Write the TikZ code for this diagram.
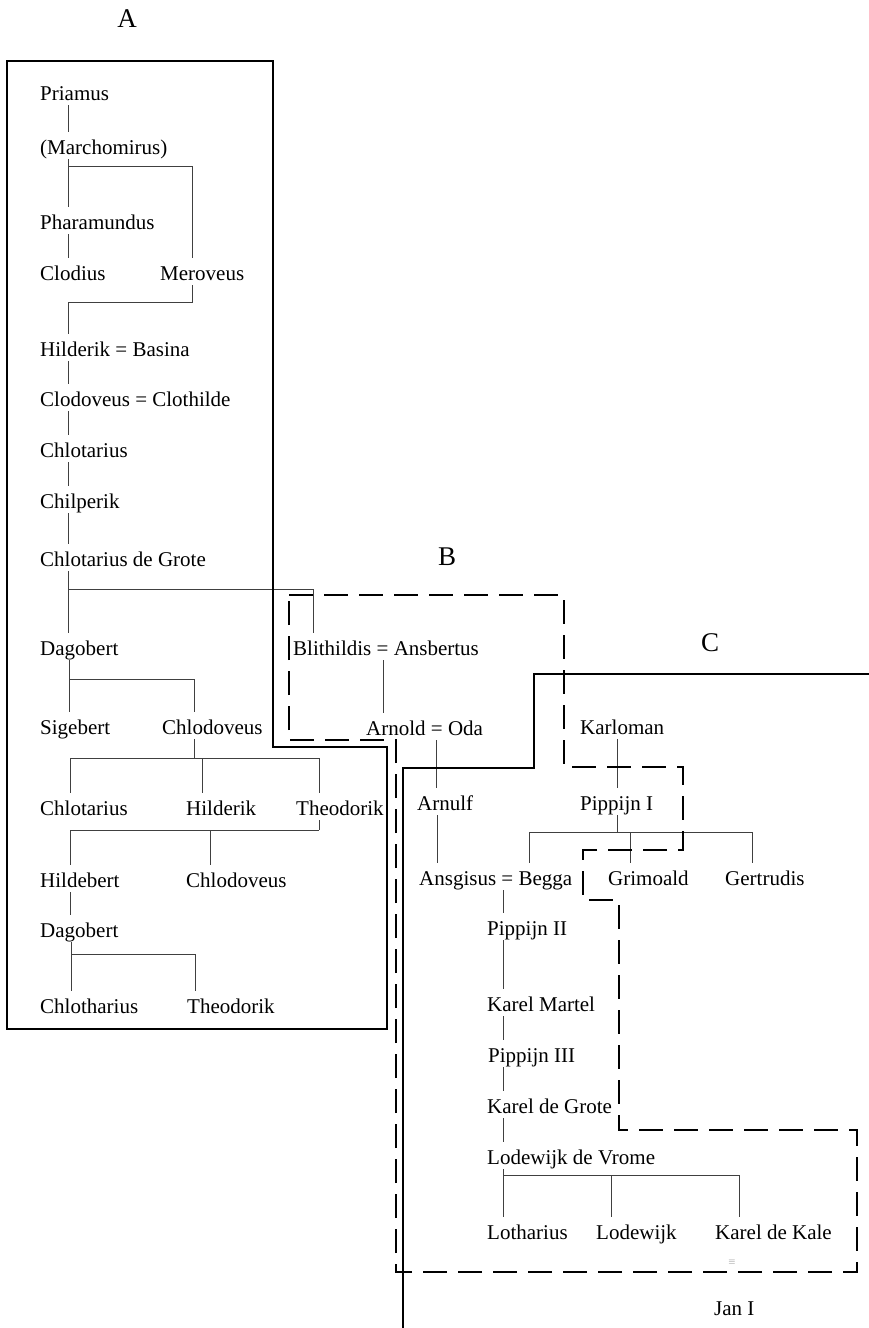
\documentclass[tikz,border=0pt]{standalone}
\usepackage{fontspec}
\setmainfont{Liberation Serif}
\usetikzlibrary{calc}
\begin{document}
\begin{tikzpicture}[x=1pt,y=-1pt,
  nm/.style={anchor=base west, inner xsep=0pt, inner ysep=2pt, text height=20pt, text depth=3pt, font=\fontsize{21}{25}\selectfont},
  ln/.style={line width=0.8pt, black!75},
  box/.style={line width=2.4pt, line join=miter},
  dbox/.style={box, dash pattern=on 24pt off 11pt},
  lbl/.style={font=\fontsize{27}{32}\selectfont, inner sep=0pt}]
\useasboundingbox[fill=white] (0,0) rectangle (869,1328);

% labels
\node[lbl] (la) at (127,19) {A};
\node[lbl] (lb) at (447,557) {B};
\node[lbl] (lc) at (710,643) {C};

% column A
\node[nm] (pri) at (40,100) {Priamus};
\node[nm] (mar) at (40,154) {(Marchomirus)};
\node[nm] (pha) at (40,229) {Pharamundus};
\node[nm] (clo) at (40,280) {Clodius};
\node[nm] (mer) at (160,280) {Meroveus};
\node[nm] (hil) at (40,356) {Hilderik = Basina};
\node[nm] (cld) at (40,406) {Clodoveus = Clothilde};
\node[nm] (chl) at (40,457) {Chlotarius};
\node[nm] (chp) at (40,508) {Chilperik};
\node[nm] (cdg) at (40,566) {Chlotarius de Grote};
\node[nm] (dag) at (40,655) {Dagobert};
\node[nm] (sig) at (40,734) {Sigebert};
\node[nm] (chv) at (162,734) {Chlodoveus};
\node[nm] (cht) at (40,815) {Chlotarius};
\node[nm] (hlk) at (186,815) {Hilderik};
\node[nm] (the) at (296,815) {Theodorik};
\node[nm] (hdb) at (40,887) {Hildebert};
\node[nm] (chv2) at (186,887) {Chlodoveus};
\node[nm] (dag2) at (40,937) {Dagobert};
\node[nm] (chth) at (40,1013) {Chlotharius};
\node[nm] (the2) at (187,1013) {Theodorik};

% B and C
\node[nm] (bli) at (293,655) {Blithildis = Ansbertus};
\node[nm] (arn) at (366,735) {Arnold = Oda};
\node[nm] (arf) at (417,810) {Arnulf};
\node[nm] (ans) at (419,885) {Ansgisus = Begga};
\node[nm] (kar) at (580,734) {Karloman};
\node[nm] (pi1) at (580,810) {Pippijn I};
\node[nm] (gri) at (608,885) {Grimoald};
\node[nm] (ger) at (725,885) {Gertrudis};
\node[nm] (pi2) at (487,935) {Pippijn II};
\node[nm] (km) at (487,1011) {Karel Martel};
\node[nm] (pi3) at (488,1062) {Pippijn III};
\node[nm] (kdg) at (487,1113) {Karel de Grote};
\node[nm] (ldv) at (487,1164) {Lodewijk de Vrome};
\node[nm] (lot) at (487,1239) {Lotharius};
\node[nm] (lod) at (596,1239) {Lodewijk};
\node[nm] (kdk) at (715,1239) {Karel de Kale};
\node[nm] (jan) at (714,1315) {Jan I};
\node[font=\fontsize{9}{9}\selectfont, text=black!50, inner sep=0pt] (mk) at (732,1262) {$\equiv$};

% connectors A
\draw[ln] ($(pri.south west)+(28,0)$) -- ($(mar.north west)+(28,0)$);
\draw[ln] ($(mar.south west)+(28,0)$) -- ($(pha.north west)+(28,0)$);
\draw[ln] ($(mar.south west)+(28,7)$) -| ($(mer.north west)+(32,0)$);
\draw[ln] ($(pha.south west)+(28,0)$) -- ($(clo.north west)+(28,0)$);
\draw[ln] ($(mer.south west)+(32,0)$) -- ++(0,17) -| ($(hil.north west)+(28,0)$);
\draw[ln] ($(hil.south west)+(28,0)$) -- ($(cld.north west)+(28,0)$);
\draw[ln] ($(cld.south west)+(28,0)$) -- ($(chl.north west)+(28,0)$);
\draw[ln] ($(chl.south west)+(28,0)$) -- ($(chp.north west)+(28,0)$);
\draw[ln] ($(chp.south west)+(28,0)$) -- ($(cdg.north west)+(28,0)$);
\draw[ln] ($(cdg.south west)+(28,0)$) -- ($(dag.north west)+(28,0)$);
\draw[ln] ($(cdg.south west)+(28,18)$) -| ($(bli.north west)+(20,0)$);
\draw[ln] ($(dag.south west)+(29,0)$) -- ($(sig.north west)+(29,0)$);
\draw[ln] ($(dag.south west)+(29,19)$) -| ($(chv.north west)+(32,0)$);
\coordinate (j1) at ($(chv.south west)+(32,19)$);
\draw[ln] ($(chv.south west)+(32,0)$) -- (j1);
\draw[ln] ($(cht.north west)+(30,0)$) |- (j1) -| ($(the.north west)+(23,0)$);
\draw[ln] ($(hlk.north west)+(16,0)$) -- ++(0,-35);
\coordinate (j2) at ($(the.south west)+(23,10)$);
\draw[ln] ($(the.south west)+(23,0)$) -- (j2);
\draw[ln] ($(hdb.north west)+(30,0)$) |- (j2);
\draw[ln] ($(chv2.north west)+(24,0)$) -- ++(0,-35);
\draw[ln] ($(hdb.south west)+(30,0)$) -- ($(dag2.north west)+(30,0)$);
\draw[ln] ($(dag2.south west)+(31,0)$) -- ($(chth.north west)+(31,0)$);
\draw[ln] ($(dag2.south west)+(31,12)$) -| ($(the2.north west)+(8,0)$);

% connectors B / C
\draw[ln] ($(bli.south west)+(90,0)$) -- ($(arn.north west)+(17,0)$);
\draw[ln] ($(arn.south west)+(70,0)$) -- ($(arf.north west)+(19,0)$);
\draw[ln] ($(arf.south west)+(20,0)$) -- ($(ans.north west)+(18,0)$);
\draw[ln] ($(kar.south west)+(37,0)$) -- ($(pi1.north west)+(37,0)$);
\coordinate (j3) at ($(pi1.south west)+(37,17)$);
\draw[ln] ($(pi1.south west)+(37,0)$) -- (j3);
\draw[ln] ($(ans.north west)+(110,0)$) |- (j3) -| ($(ger.north west)+(27,0)$);
\draw[ln] ($(gri.north west)+(22,0)$) -- ++(0,-31);
\draw[ln] ($(ans.south west)+(84,0)$) -- ($(pi2.north west)+(16,0)$);
\draw[ln] ($(pi2.south west)+(16,0)$) -- ($(km.north west)+(16,0)$);
\draw[ln] ($(km.south west)+(16,0)$) -- ($(pi3.north west)+(15,0)$);
\draw[ln] ($(pi3.south west)+(15,0)$) -- ($(kdg.north west)+(16,0)$);
\draw[ln] ($(kdg.south west)+(16,0)$) -- ($(ldv.north west)+(16,0)$);
\coordinate (j4) at ($(ldv.south west)+(16,6)$);
\draw[ln] ($(ldv.south west)+(16,0)$) -- (j4);
\draw[ln] ($(lot.north west)+(16,0)$) |- (j4) -| ($(kdk.north west)+(24,0)$);
\draw[ln] ($(lod.north west)+(15,0)$) -- ++(0,-42);

% frames
\draw[box] (7,61) -- (273,61) -- (273,747) -- (387,747) -- (387,1029) -- (7,1029) -- cycle;
\draw[dbox] (289,595) -- (564,595) -- (564,767) -- (683,767) -- (683,850) -- (583,850) -- (583,900) -- (619,900) -- (619,1130) -- (857,1130) -- (857,1272) -- (396,1272) -- (396,740) -- (289,740) -- cycle;
\draw[box] (869,674) -- (534,674) -- (534,768) -- (403,768) -- (403,1328);
\end{tikzpicture}
\end{document}
